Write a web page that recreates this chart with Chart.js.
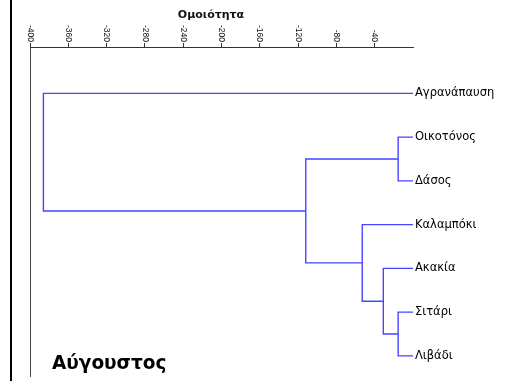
<!DOCTYPE html>
<html>
<head>
<meta charset="utf-8">
<script src="https://cdn.jsdelivr.net/npm/chart.js@4.4.1/dist/chart.umd.min.js"></script>
<style>
body { margin: 0; background: #fff; }
#wrap { position: relative; width: 509px; height: 381px; }
#frame { position: absolute; left: 10px; top: 0; width: 2px; height: 381px; background: #000; }
#title { position: absolute; top: 8px; left: 150px; width: 122px; text-align: center; font: bold 11px "DejaVu Sans", sans-serif; color: #111; }
#month { position: absolute; left: 52px; top: 352px; font: bold 18.5px "DejaVu Sans", sans-serif; color: #000; }
</style>
</head>
<body>
<div id="wrap">
  <canvas id="dendro" width="509" height="381"></canvas>
  <div id="frame"></div>
  <div id="title">Ομοιότητα</div>
  <div id="month">Αύγουστος</div>
</div>
<script>
const leaves = ['Αγρανάπαυση', 'Οικοτόνος', 'Δάσος', 'Καλαμπόκι', 'Ακακία', 'Σιτάρι', 'Λιβάδι'];
// merges: node ids 0-6 are leaves, 7.. are the merged clusters in order
const mergeA = [1, 5, 4, 3, 7, 0];
const mergeB = [2, 6, 8, 9, 10, 11];
const mergeHeight = [-15.5, -15.5, -31, -53, -112, -386];
const xTicks = [-400, -360, -320, -280, -240, -200, -160, -120, -80, -40];

// leaves sit at 0, each merge at its height, halfway between its children
const nodeX = leaves.map(() => 0);
const nodeY = leaves.map((name, i) => i);
const links = [];
mergeHeight.forEach((h, i) => {
    const a = mergeA[i], b = mergeB[i];
    links.push([
        { x: nodeX[a], y: nodeY[a] },
        { x: h, y: nodeY[a] },
        { x: h, y: nodeY[b] },
        { x: nodeX[b], y: nodeY[b] }
    ]);
    nodeX.push(h);
    nodeY.push((nodeY[a] + nodeY[b]) / 2);
});

// tick labels read top to bottom, so draw them turned clockwise
const rotatedTicks = {
    id: 'rotatedTicks',
    afterDraw(chart) {
        const sc = chart.scales.x, ctx = chart.ctx;
        ctx.save();
        ctx.font = '8.5px "Liberation Sans", Arial, sans-serif';
        ctx.fillStyle = '#111';
        ctx.textAlign = 'right';
        ctx.textBaseline = 'middle';
        xTicks.forEach(v => {
            ctx.save();
            ctx.translate(sc.getPixelForValue(v), sc.bottom - 5);
            ctx.rotate(Math.PI / 2);
            ctx.fillText(String(v), 0, 0);
            ctx.restore();
        });
        ctx.restore();
    }
};

const yMin = -1.06, yMax = 6.46;
const noPad = scale => { scale.paddingTop = 0; scale.paddingBottom = 0; };

new Chart(document.getElementById('dendro'), {
    type: 'scatter',
    data: {
        datasets: links.map(pts => ({
            data: pts,
            showLine: true,
            borderColor: '#4646ff',
            borderWidth: 1.4,
            pointRadius: 0,
            tension: 0,
            fill: false
        }))
    },
    options: {
        responsive: false,
        animation: false,
        layout: { padding: { top: 0, left: 0, right: 0, bottom: 5 } },
        plugins: { legend: { display: false }, tooltip: { enabled: false } },
        scales: {
            x: {
                type: 'linear',
                position: 'top',
                min: -400,
                max: 0,
                afterBuildTicks: scale => { scale.ticks = xTicks.map(v => ({ value: v })); },
                afterFit: scale => { scale.height = 47; scale.paddingLeft = 0; scale.paddingRight = 0; },
                ticks: { display: false },
                grid: { drawOnChartArea: false, drawTicks: true, tickLength: 4, color: '#333' },
                border: { color: '#333', width: 1 }
            },
            y: {
                type: 'linear',
                position: 'left',
                min: yMin,
                max: yMax,
                reverse: true,
                afterFit: scale => { scale.width = 30; noPad(scale); },
                ticks: { display: false },
                grid: { display: false },
                border: { color: '#444', width: 1 }
            },
            yNames: {
                type: 'linear',
                position: 'right',
                min: yMin,
                max: yMax,
                reverse: true,
                afterBuildTicks: scale => { scale.ticks = leaves.map((n, i) => ({ value: i })); },
                afterFit: scale => { scale.width = 96; noPad(scale); },
                ticks: {
                    autoSkip: false,
                    padding: 2,
                    color: '#000',
                    font: { family: '"DejaVu Sans", sans-serif', size: 11.5 },
                    callback: v => leaves[v]
                },
                grid: { display: false, drawTicks: false },
                border: { display: false }
            }
        }
    },
    plugins: [rotatedTicks]
});
</script>
</body>
</html>
